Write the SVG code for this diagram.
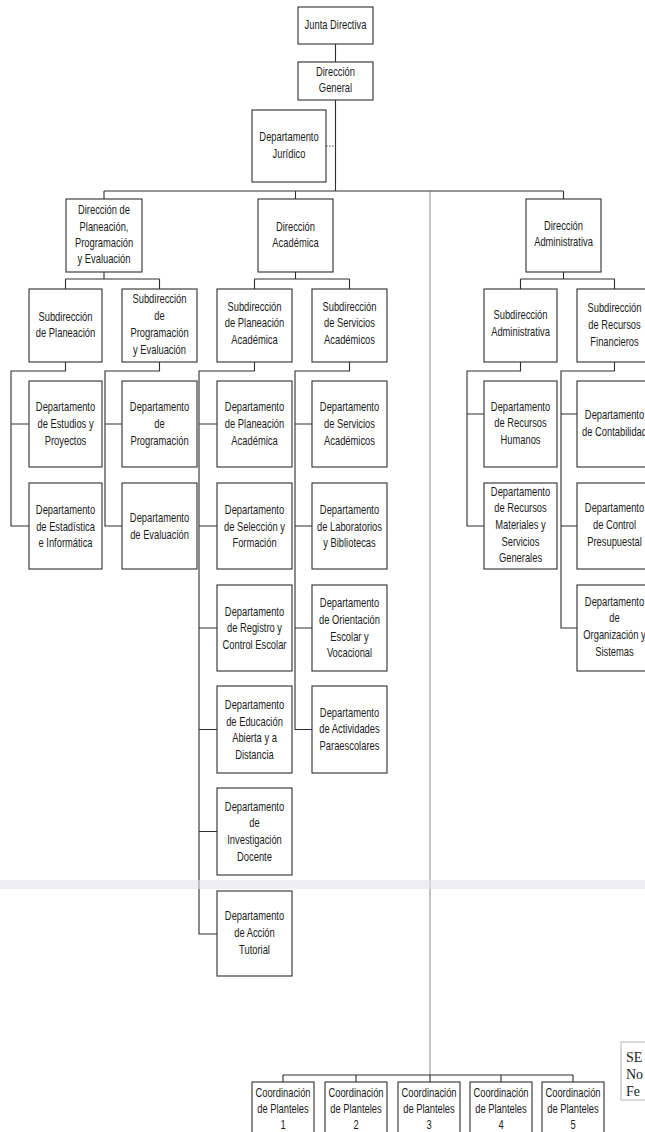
<svg xmlns="http://www.w3.org/2000/svg" width="645" height="1132" viewBox="0 0 645 1132">
<style>
.b{fill:#fff;stroke:#2e2e2e;stroke-width:1.1}
.t{font-family:"Liberation Sans",Arial,sans-serif;font-size:12px;fill:#1c1c1c;text-anchor:middle}
.c{fill:none;stroke:#2e2e2e;stroke-width:1.1}
.thin{fill:none;stroke:#6a6a6a;stroke-width:0.8}
.dot{fill:none;stroke:#444;stroke-width:1;stroke-dasharray:1.5 1.5}
.s{font-family:"Liberation Serif","Times New Roman",serif;font-size:14px;fill:#1c1c1c}
</style>
<rect width="645" height="1132" fill="#fff"/>
<g id="connectors">
<path class="c" d="M335.5,44V62M335.5,100V191M104,191H563.5M104,191V199M295.5,191V199M563.5,191V199"/>
<path class="dot" d="M326,146H335.5"/>
<path class="thin" d="M430,191V1075"/>
<path class="c" d="M104,272V279M65.5,279H159.5M65.5,279V289M159.5,279V289"/>
<path class="c" d="M295.5,272V279M254.5,279H349.5M254.5,279V289M349.5,279V289"/>
<path class="c" d="M563.5,272V279M520.5,279H614.5M520.5,279V289M614.5,279V289"/>
<path class="c" d="M65.5,362V371H11V526H29M11,424H29"/>
<path class="c" d="M159.5,362V371H105V526H122M105,424H122"/>
<path class="c" d="M254.5,362V371H199V934H217M199,424H217M199,526H217M199,628H217M199,729.5H217M199,831.5H217"/>
<path class="c" d="M349.5,362V371H295V729.5H312M295,424H312M295,526H312M295,628H312"/>
<path class="c" d="M520.5,362V371H467V526H484M467,414H484"/>
<path class="c" d="M614.5,362V371H561V628H577M561,414H577M561,526H577"/>
<path class="c" d="M283,1075H573M283,1075V1082M356,1075V1082M430,1075V1082M501,1075V1082M573,1075V1082"/>
</g>
<g id="n1"><rect class="b" x="298" y="7" width="75" height="37"/><text class="t" transform="matrix(0.78 0 0 1 335.5 0)"><tspan x="0" y="29">Junta Directiva</tspan></text></g>
<g id="n2"><rect class="b" x="298" y="62" width="75" height="38"/><text class="t" transform="matrix(0.78 0 0 1 335.5 0)"><tspan x="0" y="76">Dirección</tspan><tspan x="0" y="92">General</tspan></text></g>
<g id="n3"><rect class="b" x="252" y="110" width="74" height="72"/><text class="t" transform="matrix(0.78 0 0 1 289 0)"><tspan x="0" y="141">Departamento</tspan><tspan x="0" y="158">Jurídico</tspan></text></g>
<g id="n4"><rect class="b" x="66" y="199" width="76" height="73"/><text class="t" transform="matrix(0.78 0 0 1 104 0)"><tspan x="0" y="214">Dirección de</tspan><tspan x="0" y="231">Planeación,</tspan><tspan x="0" y="247">Programación</tspan><tspan x="0" y="263">y Evaluación</tspan></text></g>
<g id="n5"><rect class="b" x="258" y="199" width="75" height="73"/><text class="t" transform="matrix(0.78 0 0 1 295.5 0)"><tspan x="0" y="231">Dirección</tspan><tspan x="0" y="247">Académica</tspan></text></g>
<g id="n6"><rect class="b" x="526" y="199" width="75" height="73"/><text class="t" transform="matrix(0.78 0 0 1 563.5 0)"><tspan x="0" y="230">Dirección</tspan><tspan x="0" y="246">Administrativa</tspan></text></g>
<g id="n7"><rect class="b" x="29" y="289" width="73" height="73"/><text class="t" transform="matrix(0.78 0 0 1 65.5 0)"><tspan x="0" y="321">Subdirección</tspan><tspan x="0" y="337">de Planeación</tspan></text></g>
<g id="n8"><rect class="b" x="122" y="289" width="75" height="73"/><text class="t" transform="matrix(0.78 0 0 1 159.5 0)"><tspan x="0" y="303">Subdirección</tspan><tspan x="0" y="320">de</tspan><tspan x="0" y="337">Programación</tspan><tspan x="0" y="354">y Evaluación</tspan></text></g>
<g id="n9"><rect class="b" x="217" y="289" width="75" height="73"/><text class="t" transform="matrix(0.78 0 0 1 254.5 0)"><tspan x="0" y="311">Subdirección</tspan><tspan x="0" y="327">de Planeación</tspan><tspan x="0" y="344">Académica</tspan></text></g>
<g id="n10"><rect class="b" x="312" y="289" width="75" height="73"/><text class="t" transform="matrix(0.78 0 0 1 349.5 0)"><tspan x="0" y="311">Subdirección</tspan><tspan x="0" y="327">de Servicios</tspan><tspan x="0" y="344">Académicos</tspan></text></g>
<g id="n11"><rect class="b" x="484" y="289" width="73" height="73"/><text class="t" transform="matrix(0.78 0 0 1 520.5 0)"><tspan x="0" y="319">Subdirección</tspan><tspan x="0" y="336">Administrativa</tspan></text></g>
<g id="n12"><rect class="b" x="577" y="289" width="75" height="73"/><text class="t" transform="matrix(0.78 0 0 1 614.5 0)"><tspan x="0" y="312">Subdirección</tspan><tspan x="0" y="329">de Recursos</tspan><tspan x="0" y="346">Financieros</tspan></text></g>
<g id="n13"><rect class="b" x="29" y="381" width="73" height="86"/><text class="t" transform="matrix(0.78 0 0 1 65.5 0)"><tspan x="0" y="411">Departamento</tspan><tspan x="0" y="428">de Estudios y</tspan><tspan x="0" y="445">Proyectos</tspan></text></g>
<g id="n14"><rect class="b" x="122" y="381" width="75" height="86"/><text class="t" transform="matrix(0.78 0 0 1 159.5 0)"><tspan x="0" y="411">Departamento</tspan><tspan x="0" y="428">de</tspan><tspan x="0" y="445">Programación</tspan></text></g>
<g id="n15"><rect class="b" x="217" y="381" width="75" height="86"/><text class="t" transform="matrix(0.78 0 0 1 254.5 0)"><tspan x="0" y="411">Departamento</tspan><tspan x="0" y="428">de Planeación</tspan><tspan x="0" y="445">Académica</tspan></text></g>
<g id="n16"><rect class="b" x="312" y="381" width="75" height="86"/><text class="t" transform="matrix(0.78 0 0 1 349.5 0)"><tspan x="0" y="411">Departamento</tspan><tspan x="0" y="428">de Servicios</tspan><tspan x="0" y="445">Académicos</tspan></text></g>
<g id="n17"><rect class="b" x="484" y="381" width="73" height="86"/><text class="t" transform="matrix(0.78 0 0 1 520.5 0)"><tspan x="0" y="411">Departamento</tspan><tspan x="0" y="427">de Recursos</tspan><tspan x="0" y="444">Humanos</tspan></text></g>
<g id="n18"><rect class="b" x="577" y="381" width="75" height="86"/><text class="t" transform="matrix(0.78 0 0 1 614.5 0)"><tspan x="0" y="419">Departamento</tspan><tspan x="0" y="436">de Contabilidad</tspan></text></g>
<g id="n19"><rect class="b" x="29" y="483" width="73" height="86"/><text class="t" transform="matrix(0.78 0 0 1 65.5 0)"><tspan x="0" y="514">Departamento</tspan><tspan x="0" y="531">de Estadística</tspan><tspan x="0" y="547">e Informática</tspan></text></g>
<g id="n20"><rect class="b" x="122" y="483" width="75" height="86"/><text class="t" transform="matrix(0.78 0 0 1 159.5 0)"><tspan x="0" y="522">Departamento</tspan><tspan x="0" y="539">de Evaluación</tspan></text></g>
<g id="n21"><rect class="b" x="217" y="483" width="75" height="86"/><text class="t" transform="matrix(0.78 0 0 1 254.5 0)"><tspan x="0" y="514">Departamento</tspan><tspan x="0" y="531">de Selección y</tspan><tspan x="0" y="547">Formación</tspan></text></g>
<g id="n22"><rect class="b" x="312" y="483" width="75" height="86"/><text class="t" transform="matrix(0.78 0 0 1 349.5 0)"><tspan x="0" y="514">Departamento</tspan><tspan x="0" y="531">de Laboratorios</tspan><tspan x="0" y="547">y Bibliotecas</tspan></text></g>
<g id="n23"><rect class="b" x="484" y="483" width="73" height="86"/><text class="t" transform="matrix(0.78 0 0 1 520.5 0)"><tspan x="0" y="496">Departamento</tspan><tspan x="0" y="512">de Recursos</tspan><tspan x="0" y="529">Materiales y</tspan><tspan x="0" y="546">Servicios</tspan><tspan x="0" y="562">Generales</tspan></text></g>
<g id="n24"><rect class="b" x="577" y="483" width="75" height="86"/><text class="t" transform="matrix(0.78 0 0 1 614.5 0)"><tspan x="0" y="512">Departamento</tspan><tspan x="0" y="529">de Control</tspan><tspan x="0" y="546">Presupuestal</tspan></text></g>
<g id="n25"><rect class="b" x="217" y="585" width="75" height="86"/><text class="t" transform="matrix(0.78 0 0 1 254.5 0)"><tspan x="0" y="616">Departamento</tspan><tspan x="0" y="632">de Registro y</tspan><tspan x="0" y="649">Control Escolar</tspan></text></g>
<g id="n26"><rect class="b" x="312" y="585" width="75" height="86"/><text class="t" transform="matrix(0.78 0 0 1 349.5 0)"><tspan x="0" y="607">Departamento</tspan><tspan x="0" y="624">de Orientación</tspan><tspan x="0" y="641">Escolar y</tspan><tspan x="0" y="657">Vocacional</tspan></text></g>
<g id="n27"><rect class="b" x="577" y="585" width="75" height="86"/><text class="t" transform="matrix(0.78 0 0 1 614.5 0)"><tspan x="0" y="606">Departamento</tspan><tspan x="0" y="622">de</tspan><tspan x="0" y="639">Organización y</tspan><tspan x="0" y="656">Sistemas</tspan></text></g>
<g id="n28"><rect class="b" x="217" y="686" width="75" height="87"/><text class="t" transform="matrix(0.78 0 0 1 254.5 0)"><tspan x="0" y="709">Departamento</tspan><tspan x="0" y="726">de Educación</tspan><tspan x="0" y="742">Abierta y a</tspan><tspan x="0" y="759">Distancia</tspan></text></g>
<g id="n29"><rect class="b" x="312" y="686" width="75" height="87"/><text class="t" transform="matrix(0.78 0 0 1 349.5 0)"><tspan x="0" y="717">Departamento</tspan><tspan x="0" y="733">de Actividades</tspan><tspan x="0" y="750">Paraescolares</tspan></text></g>
<g id="n30"><rect class="b" x="217" y="788" width="75" height="87"/><text class="t" transform="matrix(0.78 0 0 1 254.5 0)"><tspan x="0" y="811">Departamento</tspan><tspan x="0" y="827">de</tspan><tspan x="0" y="844">Investigación</tspan><tspan x="0" y="861">Docente</tspan></text></g>
<g id="n31"><rect class="b" x="217" y="891" width="75" height="85"/><text class="t" transform="matrix(0.78 0 0 1 254.5 0)"><tspan x="0" y="920">Departamento</tspan><tspan x="0" y="937">de Acción</tspan><tspan x="0" y="954">Tutorial</tspan></text></g>
<g id="c1"><rect class="b" x="252" y="1082" width="62" height="60"/><text class="t" transform="matrix(0.78 0 0 1 283 0)"><tspan x="0" y="1097">Coordinación</tspan><tspan x="0" y="1113">de Planteles</tspan><tspan x="0" y="1129">1</tspan></text></g>
<g id="c2"><rect class="b" x="325" y="1082" width="62" height="60"/><text class="t" transform="matrix(0.78 0 0 1 356 0)"><tspan x="0" y="1097">Coordinación</tspan><tspan x="0" y="1113">de Planteles</tspan><tspan x="0" y="1129">2</tspan></text></g>
<g id="c3"><rect class="b" x="398" y="1082" width="62" height="60"/><text class="t" transform="matrix(0.78 0 0 1 429 0)"><tspan x="0" y="1097">Coordinación</tspan><tspan x="0" y="1113">de Planteles</tspan><tspan x="0" y="1129">3</tspan></text></g>
<g id="c4"><rect class="b" x="470" y="1082" width="62" height="60"/><text class="t" transform="matrix(0.78 0 0 1 501 0)"><tspan x="0" y="1097">Coordinación</tspan><tspan x="0" y="1113">de Planteles</tspan><tspan x="0" y="1129">4</tspan></text></g>
<g id="c5"><rect class="b" x="542" y="1082" width="62" height="60"/><text class="t" transform="matrix(0.78 0 0 1 573 0)"><tspan x="0" y="1097">Coordinación</tspan><tspan x="0" y="1113">de Planteles</tspan><tspan x="0" y="1129">5</tspan></text></g>
<rect x="0" y="880" width="645" height="9" fill="#e4e2e6" opacity="0.6"/>
<g id="stamp">
<path d="M621,1100V1042H645M621,1100H645" fill="none" stroke="#b5b5b5" stroke-width="1"/>
<text class="s" x="626" y="1062">SE</text>
<text class="s" x="626" y="1079">No</text>
<text class="s" x="626" y="1096">Fe</text>
</g>
</svg>
